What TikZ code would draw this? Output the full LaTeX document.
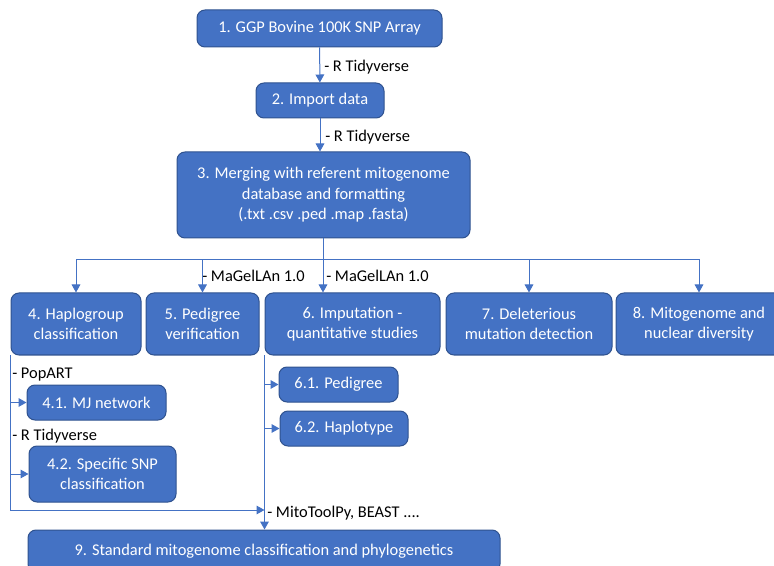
\documentclass[tikz,border=0pt]{standalone}
\usepackage{fontspec}
\setmainfont{Carlito}
\usetikzlibrary{positioning,calc,arrows.meta}

\definecolor{boxblue}{HTML}{4472C4}
\definecolor{boxedge}{HTML}{2F528F}

\tikzset{
    stage/.style={align=center,draw=boxedge,fill=boxblue,text=white,rounded corners=6pt,line width=0.75pt,inner sep=0pt},
    tool/.style={align=left,anchor=west,inner sep=0pt},
    flow/.style={draw=boxblue,line width=0.75pt}
}

\begin{document}
\begin{tikzpicture}[x=0.75pt,y=-0.75pt,>={Triangle[length=6pt,width=6.5pt]},font=\fontsize{12.3}{15.4}\selectfont]
    \clip (0,0) rectangle (774,566);
    \draw
        node[stage,minimum width=183.75pt,minimum height=27.75pt] (ggp) at (319.5,28.5) {1. GGP Bovine 100K SNP Array}
        node[stage,minimum width=96pt,minimum height=26.25pt] (import) at (320,100.5) {2. Import data}
        node[stage,minimum width=219.75pt,minimum height=64.5pt] (merge) at (323.5,195) {3. Merging with referent mitogenome\\database and formatting\\(.txt .csv .ped .map .fasta)}

        node[stage,minimum width=97.5pt,minimum height=46.5pt] (haplo) at (76,324) {4. Haplogroup\\classification}
        node[stage,minimum width=84.75pt,minimum height=46.5pt] (pedver) at (202.5,324) {5. Pedigree\\verification}
        node[stage,minimum width=131.25pt,minimum height=46.5pt] (imput) at (352.5,324) {6. Imputation -\\quantitative studies}
        node[stage,minimum width=124.5pt,minimum height=46.5pt] (delet) at (529,324) {7. Deleterious\\mutation detection}
        node[stage,minimum width=124.5pt,minimum height=46.5pt] (divers) at (699,324) {8. Mitogenome and\\nuclear diversity}

        node[stage,minimum width=104.25pt,minimum height=26.25pt] (mj) at (96.5,402.5) {4.1. MJ network}
        node[stage,minimum width=110.25pt,minimum height=42pt] (snp) at (102.5,474) {4.2. Specific SNP\\classification}
        node[stage,minimum width=89.25pt,minimum height=26.25pt] (pedig) at (338.5,384.5) {6.1. Pedigree}
        node[stage,minimum width=96pt,minimum height=26.25pt] (haplot) at (344,428.5) {6.2. Haplotype}

        node[stage,minimum width=354pt,minimum height=31.5pt] (phylo) at (264,551) {9. Standard mitogenome classification and phylogenetics}
    ;

    % tool labels
    \node[tool] (t1) at (324,67) {- R Tidyverse};
    \node[tool] (t2) at (325,137) {- R Tidyverse};
    \node[tool] (t3) at (202,276) {- MaGelLAn 1.0};
    \node[tool] (t4) at (326,276) {- MaGelLAn 1.0};
    \node[tool] (t5) at (12,375) {- PopART};
    \node[tool] (t6) at (12,436) {- R Tidyverse};
    \node[tool] (t7) at (267,513) {- MitoToolPy, BEAST ....};

    \coordinate (split) at (323,260);
    \coordinate (join) at (imput.south west |- 0,510);

    \draw[flow,->] (ggp) -- (import);
    \draw[flow,->] (import) -- (import |- merge.north);
    \draw[flow] (merge.south -| split) -- (split);
    \draw[flow,->] (split) -| (haplo.north);
    \draw[flow,->] (split) -| (pedver.north);
    \draw[flow,->] (split) -- (split |- imput.north);
    \draw[flow,->] (split) -| (delet.north);
    \draw[flow,->] (split) -| (divers.north);

    \draw[flow,->] (haplo.south west) |- (join);
    \draw[flow,->] (haplo.south west |- mj.west) -- (mj.west);
    \draw[flow,->] (haplo.south west |- snp.west) -- (snp.west);
    \draw[flow,->] (imput.south west) -- (imput.south west |- phylo.north);
    \draw[flow,->] (imput.south west |- pedig.west) -- (pedig.west);
    \draw[flow,->] (imput.south west |- haplot.west) -- (haplot.west);
\end{tikzpicture}
\end{document}
